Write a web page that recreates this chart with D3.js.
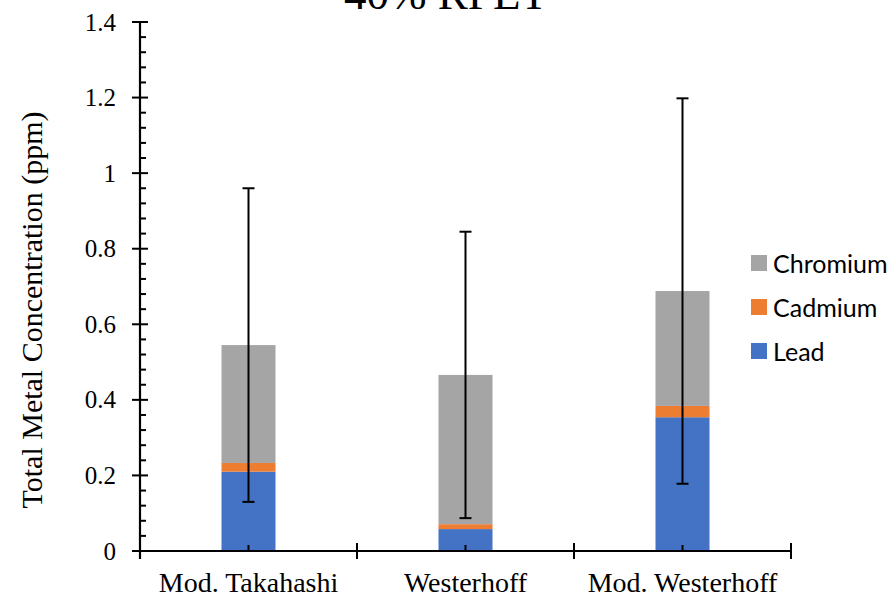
<!DOCTYPE html>
<html>
<head>
<meta charset="utf-8">
<script src="https://cdn.jsdelivr.net/npm/d3@7"></script>
<style>
  html, body { margin: 0; padding: 0; background: #fff; }
  svg { display: block; }
</style>
</head>
<body>
<svg id="chart" width="896" height="599"></svg>
<script>
// Metal concentrations for 40% RPET, by extraction method (ppm)
const categories = ["Mod. Takahashi", "Westerhoff", "Mod. Westerhoff"];
const seriesNames = ["Lead", "Cadmium", "Chromium"];
const lead     = [0.21, 0.058, 0.354];
const cadmium  = [0.023, 0.013, 0.030];
const chromium = [0.312, 0.395, 0.304];
const errorPlusMinus = [0.415, 0.379, 0.51];
const yTicks = [0, 0.2, 0.4, 0.6, 0.8, 1, 1.2, 1.4];
const colors = { Lead: "#4472C4", Cadmium: "#ED7D31", Chromium: "#A5A5A5" };

const svg = d3.select("#chart");
const margin = { left: 140, right: 105, top: 22, bottom: 48 };
const W = 896, H = 599;

const x = d3.scaleBand().domain(categories).range([margin.left, W - margin.right]).padding(0);
const y = d3.scaleLinear().domain([0, 1.4]).range([H - margin.bottom, margin.top]);

const rows = categories.map((c, i) => ({ category: c, Lead: lead[i], Cadmium: cadmium[i], Chromium: chromium[i] }));
const stacked = d3.stack().keys(seriesNames)(rows);
const barW = 54;

// Title
svg.append("text")
  .attr("x", 446).attr("y", 9)
  .attr("text-anchor", "middle")
  .style("font-family", "'Liberation Serif', 'Times New Roman', serif")
  .style("font-size", "45px")
  .text("40% RPET");

// Stacked bars
svg.append("g").selectAll("g").data(stacked).join("g")
  .attr("fill", d => colors[d.key])
  .selectAll("rect").data(d => d).join("rect")
  .attr("x", d => x(d.data.category) + x.bandwidth() / 2 - barW / 2)
  .attr("width", barW)
  .attr("y", d => y(d[1]))
  .attr("height", d => y(d[0]) - y(d[1]));

// Y axis: major ticks cross the line, minor ticks point inward
const yAxisG = svg.append("g").attr("transform", `translate(${margin.left},0)`);
yAxisG.call(d3.axisLeft(y).tickValues(yTicks).tickSize(0).tickFormat(d3.format("~g")).tickPadding(24));
yAxisG.select(".domain").remove();
yAxisG.selectAll("text")
  .style("font-family", "'Liberation Serif', 'Times New Roman', serif")
  .style("font-size", "25px")
  .attr("fill", "#000");

const minorTicks = d3.range(0, 1.4001, 0.04).filter(v => !yTicks.some(t => Math.abs(t - v) < 1e-6));
yAxisG.selectAll("line.minor").data(minorTicks).join("line")
  .attr("class", "minor")
  .attr("x1", 0).attr("x2", 6)
  .attr("y1", d => y(d)).attr("y2", d => y(d))
  .attr("stroke", "#000").attr("stroke-width", 2);
yAxisG.selectAll("line.major").data(yTicks).join("line")
  .attr("class", "major")
  .attr("x1", -8).attr("x2", 8)
  .attr("y1", d => y(d)).attr("y2", d => y(d))
  .attr("stroke", "#000").attr("stroke-width", 2);
yAxisG.append("line")
  .attr("x1", 0).attr("x2", 0)
  .attr("y1", y(1.4)).attr("y2", y(0) + 8)
  .attr("stroke", "#000").attr("stroke-width", 2.2);

// X axis
const xAxisG = svg.append("g").attr("transform", `translate(0,${y(0)})`);
xAxisG.append("line")
  .attr("x1", margin.left).attr("x2", W - margin.right)
  .attr("stroke", "#000").attr("stroke-width", 2.2);
const boundaries = categories.map(c => x(c)).concat([x(categories[categories.length - 1]) + x.bandwidth()]);
xAxisG.selectAll("line.bound").data(boundaries).join("line")
  .attr("class", "bound")
  .attr("x1", d => d).attr("x2", d => d)
  .attr("y1", -8).attr("y2", 8)
  .attr("stroke", "#000").attr("stroke-width", 2);
xAxisG.selectAll("line.mid").data(categories).join("line")
  .attr("class", "mid")
  .attr("x1", d => x(d) + x.bandwidth() / 2).attr("x2", d => x(d) + x.bandwidth() / 2)
  .attr("y1", -6).attr("y2", 0)
  .attr("stroke", "#000").attr("stroke-width", 2);
xAxisG.selectAll("text").data(categories).join("text")
  .attr("x", d => x(d) + x.bandwidth() / 2)
  .attr("y", 41)
  .attr("text-anchor", "middle")
  .style("font-family", "'Liberation Serif', 'Times New Roman', serif")
  .style("font-size", "28px")
  .text(d => d);

// Error bars on the stack totals
const totals = rows.map(r => r.Lead + r.Cadmium + r.Chromium);
const capW = 12;
const eg = svg.append("g").attr("stroke", "#000").attr("stroke-width", 2);
categories.forEach((c, i) => {
  const cx = x(c) + x.bandwidth() / 2;
  const hi = y(totals[i] + errorPlusMinus[i]);
  const lo = y(totals[i] - errorPlusMinus[i]);
  eg.append("line").attr("x1", cx).attr("x2", cx).attr("y1", hi).attr("y2", lo);
  eg.append("line").attr("x1", cx - capW / 2).attr("x2", cx + capW / 2).attr("y1", hi).attr("y2", hi);
  eg.append("line").attr("x1", cx - capW / 2).attr("x2", cx + capW / 2).attr("y1", lo).attr("y2", lo);
});

// Y axis title
svg.append("text")
  .attr("transform", "translate(42,310) rotate(-90)")
  .attr("text-anchor", "middle")
  .style("font-family", "'Liberation Serif', 'Times New Roman', serif")
  .style("font-size", "30px")
  .text("Total Metal Concentration (ppm)");

// Legend (top series listed first)
const legendItems = seriesNames.slice().reverse();
const lg = svg.append("g");
legendItems.forEach((name, i) => {
  const cy = 263 + i * 44;
  lg.append("rect").attr("x", 751).attr("y", cy - 8).attr("width", 16).attr("height", 16).attr("fill", colors[name]);
  lg.append("text")
    .attr("x", 773).attr("y", cy)
    .attr("dominant-baseline", "central")
    .style("font-family", "Lato, 'Open Sans', sans-serif")
    .style("font-size", "25px")
    .attr("fill", "#000")
    .text(name);
});
</script>
</body>
</html>
